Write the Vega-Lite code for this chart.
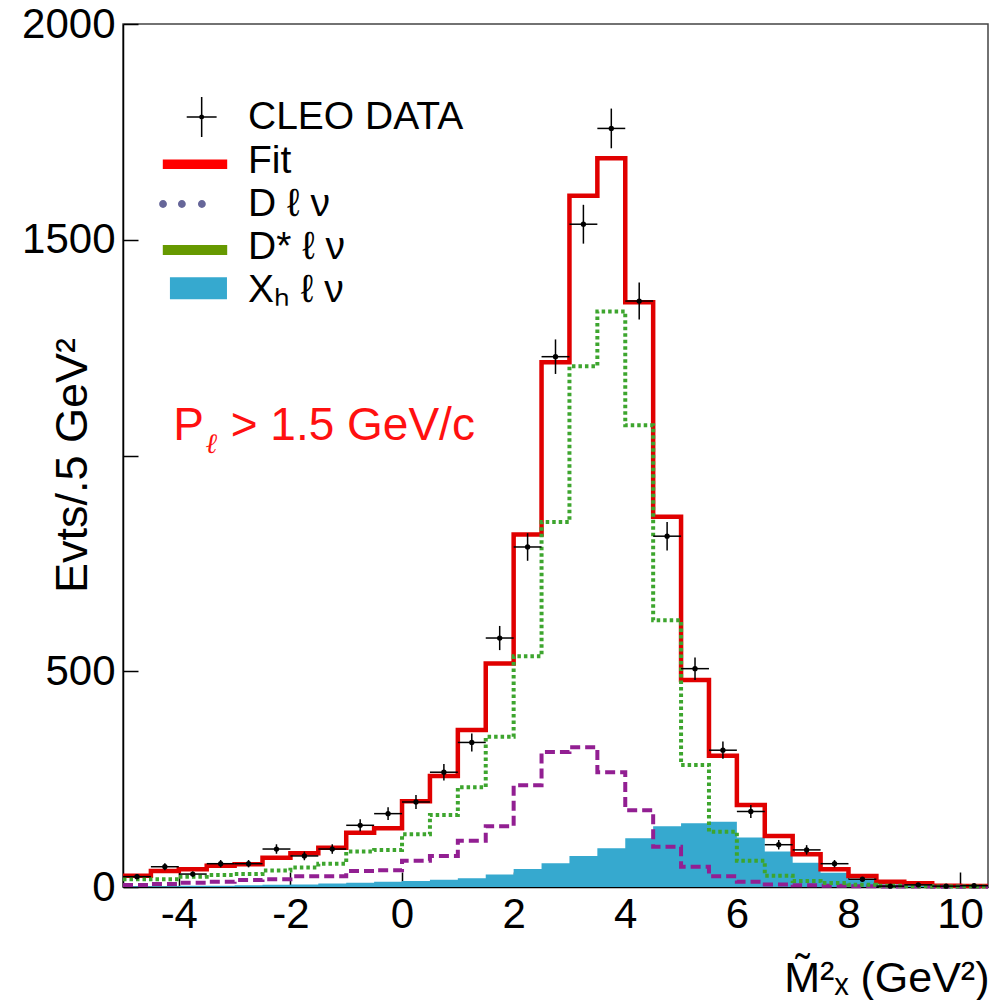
{
  "$schema": "https://vega.github.io/schema/vega-lite/v6.json",
  "width": 865,
  "height": 863,
  "autosize": {"type": "none"},
  "padding": {"left": 123, "top": 24, "right": 18, "bottom": 113},
  "background": "white",
  "config": {
    "font": "Liberation Sans",
    "view": {"stroke": "#444444", "strokeWidth": 1.5},
    "axis": {
      "grid": false,
      "domainColor": "black",
      "domainWidth": 1.5,
      "tickColor": "black",
      "tickWidth": 1.5,
      "tickSize": -15,
      "labelFont": "Liberation Sans",
      "labelFontSize": 42,
      "labelColor": "black",
      "labelFlush": false,
      "labelOverlap": false,
      "titleFont": "Liberation Sans",
      "titleFontWeight": "normal",
      "titleColor": "black",
      "titleFontSize": 45,
      "zindex": 1
    }
  },
  "data": {
    "values": [
      {"lo": -5, "hi": -4.5, "c": -4.75, "data": 24, "err": 6, "fit": 26, "dl": 4.6, "dstar": 18, "xh": 2},
      {"lo": -4.5, "hi": -4, "c": -4.25, "data": 47, "err": 8, "fit": 37, "dl": 7, "dstar": 18, "xh": 2},
      {"lo": -4, "hi": -3.5, "c": -3.75, "data": 30, "err": 6, "fit": 41, "dl": 10, "dstar": 24, "xh": 3},
      {"lo": -3.5, "hi": -3, "c": -3.25, "data": 54, "err": 8.5, "fit": 49, "dl": 12, "dstar": 28, "xh": 3},
      {"lo": -3, "hi": -2.5, "c": -2.75, "data": 54, "err": 8.5, "fit": 53, "dl": 16, "dstar": 30, "xh": 4},
      {"lo": -2.5, "hi": -2, "c": -2.25, "data": 88, "err": 11, "fit": 68, "dl": 18, "dstar": 38, "xh": 5},
      {"lo": -2, "hi": -1.5, "c": -1.75, "data": 72, "err": 10, "fit": 78, "dl": 25, "dstar": 45, "xh": 6},
      {"lo": -1.5, "hi": -1, "c": -1.25, "data": 88, "err": 11, "fit": 91, "dl": 25, "dstar": 54, "xh": 8},
      {"lo": -1, "hi": -0.5, "c": -0.75, "data": 143, "err": 14, "fit": 126, "dl": 37, "dstar": 82, "xh": 10},
      {"lo": -0.5, "hi": 0, "c": -0.25, "data": 170, "err": 15, "fit": 136, "dl": 39, "dstar": 86, "xh": 12},
      {"lo": 0, "hi": 0.5, "c": 0.25, "data": 197, "err": 16, "fit": 199, "dl": 61, "dstar": 122, "xh": 14},
      {"lo": 0.5, "hi": 1, "c": 0.75, "data": 266, "err": 19, "fit": 257, "dl": 72, "dstar": 167, "xh": 17},
      {"lo": 1, "hi": 1.5, "c": 1.25, "data": 335, "err": 21, "fit": 364, "dl": 107, "dstar": 231, "xh": 20},
      {"lo": 1.5, "hi": 2, "c": 1.75, "data": 577, "err": 28, "fit": 518, "dl": 141, "dstar": 348, "xh": 29},
      {"lo": 2, "hi": 2.5, "c": 2.25, "data": 788, "err": 32, "fit": 817, "dl": 236, "dstar": 535, "xh": 42},
      {"lo": 2.5, "hi": 3, "c": 2.75, "data": 1229, "err": 40, "fit": 1216, "dl": 313, "dstar": 846, "xh": 55},
      {"lo": 3, "hi": 3.5, "c": 3.25, "data": 1536, "err": 45, "fit": 1602, "dl": 324, "dstar": 1207, "xh": 72},
      {"lo": 3.5, "hi": 4, "c": 3.75, "data": 1758, "err": 46, "fit": 1689, "dl": 266, "dstar": 1334, "xh": 90},
      {"lo": 4, "hi": 4.5, "c": 4.25, "data": 1358, "err": 43, "fit": 1355, "dl": 178, "dstar": 1070, "xh": 113},
      {"lo": 4.5, "hi": 5, "c": 4.75, "data": 813, "err": 33, "fit": 858, "dl": 93, "dstar": 618, "xh": 141},
      {"lo": 5, "hi": 5.5, "c": 5.25, "data": 506, "err": 26, "fit": 480, "dl": 47, "dstar": 283, "xh": 148},
      {"lo": 5.5, "hi": 6, "c": 5.75, "data": 317, "err": 20, "fit": 304, "dl": 25, "dstar": 128, "xh": 151},
      {"lo": 6, "hi": 6.5, "c": 6.25, "data": 175, "err": 15, "fit": 190, "dl": 12, "dstar": 61, "xh": 115},
      {"lo": 6.5, "hi": 7, "c": 6.75, "data": 98, "err": 11, "fit": 118, "dl": 6, "dstar": 26, "xh": 82},
      {"lo": 7, "hi": 7.5, "c": 7.25, "data": 86, "err": 11, "fit": 76, "dl": 4, "dstar": 14, "xh": 56},
      {"lo": 7.5, "hi": 8, "c": 7.75, "data": 54, "err": 8.5, "fit": 41, "dl": 3, "dstar": 9, "xh": 33},
      {"lo": 8, "hi": 8.5, "c": 8.25, "data": 18, "err": 5, "fit": 25.5, "dl": 2, "dstar": 5, "xh": 18},
      {"lo": 8.5, "hi": 9, "c": 8.75, "data": 2, "err": 2, "fit": 12, "dl": 1, "dstar": 3, "xh": 6},
      {"lo": 9, "hi": 9.5, "c": 9.25, "data": 5, "err": 3, "fit": 8.6, "dl": 1, "dstar": 2, "xh": 3},
      {"lo": 9.5, "hi": 10, "c": 9.75, "data": 2, "err": 2, "fit": 3, "dl": 0.5, "dstar": 1, "xh": 1},
      {"lo": 10, "hi": 10.5, "c": 10.25, "data": 3, "err": 2, "fit": 2.3, "dl": 0.5, "dstar": 1, "xh": 0.5},
      {"lo": 10.5, "fit": 2.3, "dl": 0.5, "dstar": 1, "xh": 0.5}
    ]
  },
  "layer": [
    {
      "mark": {"type": "area", "interpolate": "step-after", "color": "#36a9cf"},
      "encoding": {
        "x": {
          "field": "lo", "type": "quantitative",
          "scale": {"domain": [-5, 10.5], "nice": false, "zero": false},
          "axis": {
            "values": [-4, -2, 0, 2, 4, 6, 8, 10],
            "labelExpr": "'' + datum.value",
            "labelPadding": 22,
            "title": "M̃²ₓ (GeV²)",
            "titleAnchor": "end",
            "titleAlign": "right",
            "titleBaseline": "alphabetic",
            "titleX": 866,
            "titleY": 104,
            "titleFontSize": 43
          }
        },
        "y": {
          "field": "xh", "type": "quantitative",
          "scale": {"domain": [0, 2000], "nice": false},
          "axis": {
            "values": [0, 500, 1000, 1500, 2000],
            "labelExpr": "datum.value == 1000 ? '' : '' + datum.value",
            "labelPadding": 23,
            "title": "Evts/.5 GeV²",
            "titleAngle": -90,
            "titleAlign": "center",
            "titleBaseline": "middle",
            "titleX": -51,
            "titleY": 441
          }
        }
      }
    },
    {
      "mark": {"type": "line", "interpolate": "step-after", "color": "#e00000", "strokeWidth": 4.5},
      "encoding": {
        "x": {"field": "lo", "type": "quantitative"},
        "y": {"field": "fit", "type": "quantitative"}
      }
    },
    {
      "mark": {"type": "line", "interpolate": "step-after", "color": "#921f92", "strokeWidth": 4, "strokeDash": [10, 5]},
      "encoding": {
        "x": {"field": "lo", "type": "quantitative"},
        "y": {"field": "dl", "type": "quantitative"}
      }
    },
    {
      "mark": {"type": "line", "interpolate": "step-after", "color": "#3da52e", "strokeWidth": 4, "strokeDash": [3.5, 3]},
      "encoding": {
        "x": {"field": "lo", "type": "quantitative"},
        "y": {"field": "dstar", "type": "quantitative"}
      }
    },
    {
      "transform": [{"filter": "isValid(datum.data)"}],
      "mark": {"type": "errorbar", "color": "black", "thickness": 1.5},
      "encoding": {
        "x": {"field": "c", "type": "quantitative"},
        "y": {"field": "data", "type": "quantitative", "title": "Evts/.5 GeV²"},
        "yError": {"field": "err"}
      }
    },
    {
      "transform": [{"filter": "isValid(datum.data)"}],
      "mark": {"type": "rule", "color": "black", "strokeWidth": 1.5},
      "encoding": {
        "x": {"field": "lo", "type": "quantitative"},
        "x2": {"field": "hi"},
        "y": {"field": "data", "type": "quantitative"}
      }
    },
    {
      "transform": [{"filter": "isValid(datum.data)"}],
      "mark": {"type": "point", "filled": true, "color": "black", "size": 28, "opacity": 1},
      "encoding": {
        "x": {"field": "c", "type": "quantitative"},
        "y": {"field": "data", "type": "quantitative"}
      }
    },
    {
      "data": {"values": [{"t": "P"}]},
      "mark": {"type": "text", "color": "#ff1010", "fontSize": 46, "align": "left", "baseline": "alphabetic", "font": "Liberation Sans"},
      "encoding": {
        "x": {"datum": -4.1},
        "y": {"datum": 1037},
        "text": {"field": "t"}
      }
    },
    {
      "data": {"values": [{"t": "ℓ"}]},
      "mark": {"type": "text", "color": "#ff1010", "fontSize": 28, "fontStyle": "italic", "align": "left", "baseline": "alphabetic", "font": "DejaVu Serif"},
      "encoding": {
        "x": {"datum": -3.52},
        "y": {"datum": 1006},
        "text": {"field": "t"}
      }
    },
    {
      "data": {"values": [{"t": "> 1.5 GeV/c"}]},
      "mark": {"type": "text", "color": "#ff1010", "fontSize": 46, "align": "left", "baseline": "alphabetic", "font": "Liberation Sans"},
      "encoding": {
        "x": {"datum": -3.07},
        "y": {"datum": 1037},
        "text": {"field": "t"}
      }
    },
    {
      "data": {"values": [{"s": "CLEO DATA"}, {"s": "Fit"}, {"s": "D ℓ ν"}, {"s": "D* ℓ ν"}, {"s": "Xₕ ℓ ν"}]},
      "transform": [{"filter": "false"}],
      "mark": {"type": "point", "filled": true, "size": 2116},
      "encoding": {
        "color": {
          "field": "s", "type": "nominal",
          "scale": {
            "domain": ["CLEO DATA", "Fit", "D ℓ ν", "D* ℓ ν", "Xₕ ℓ ν"],
            "range": ["#000000", "#ff0000", "#666699", "#669900", "#36a9cf"]
          },
          "legend": {
            "title": null, "orient": "none", "legendX": 49, "legendY": 70,
            "padding": 0, "rowPadding": 0, "symbolSize": 2116, "symbolStrokeWidth": 0,
            "labelOffset": 30, "labelFontSize": 39, "labelFont": "Liberation Sans", "labelColor": "black",
            "labelLimit": 0, "symbolOpacity": 1
          }
        },
        "shape": {
          "field": "s", "type": "nominal",
          "scale": {
            "domain": ["CLEO DATA", "Fit", "D ℓ ν", "D* ℓ ν", "Xₕ ℓ ν"],
            "range": [
              "M-0.36,-0.033H0.94V0.033H-0.36Z M0.257,-0.87H0.323V0.87H0.257Z M0.18,0a0.11,0.11 0 1,1 0.22,0a0.11,0.11 0 1,1 -0.22,0Z",
              "M-1.4,-0.07H1.4V0.35H-1.4Z",
              "M-1.56,0a0.17,0.17 0 1,1 0.34,0a0.17,0.17 0 1,1 -0.34,0Z M-0.74,0a0.17,0.17 0 1,1 0.34,0a0.17,0.17 0 1,1 -0.34,0Z M0.13,0a0.17,0.17 0 1,1 0.34,0a0.17,0.17 0 1,1 -0.34,0Z",
              "M-1.4,-0.09H1.4V0.35H-1.4Z",
              "M-1.09,-0.55H1.39V0.4H-1.09Z"
            ]
          },
          "legend": {
            "title": null, "orient": "none", "legendX": 49, "legendY": 70,
            "padding": 0, "rowPadding": 0, "symbolSize": 2116, "symbolStrokeWidth": 0,
            "labelOffset": 30, "labelFontSize": 39, "labelFont": "Liberation Sans", "labelColor": "black",
            "labelLimit": 0, "symbolOpacity": 1
          }
        }
      }
    }
  ]
}
